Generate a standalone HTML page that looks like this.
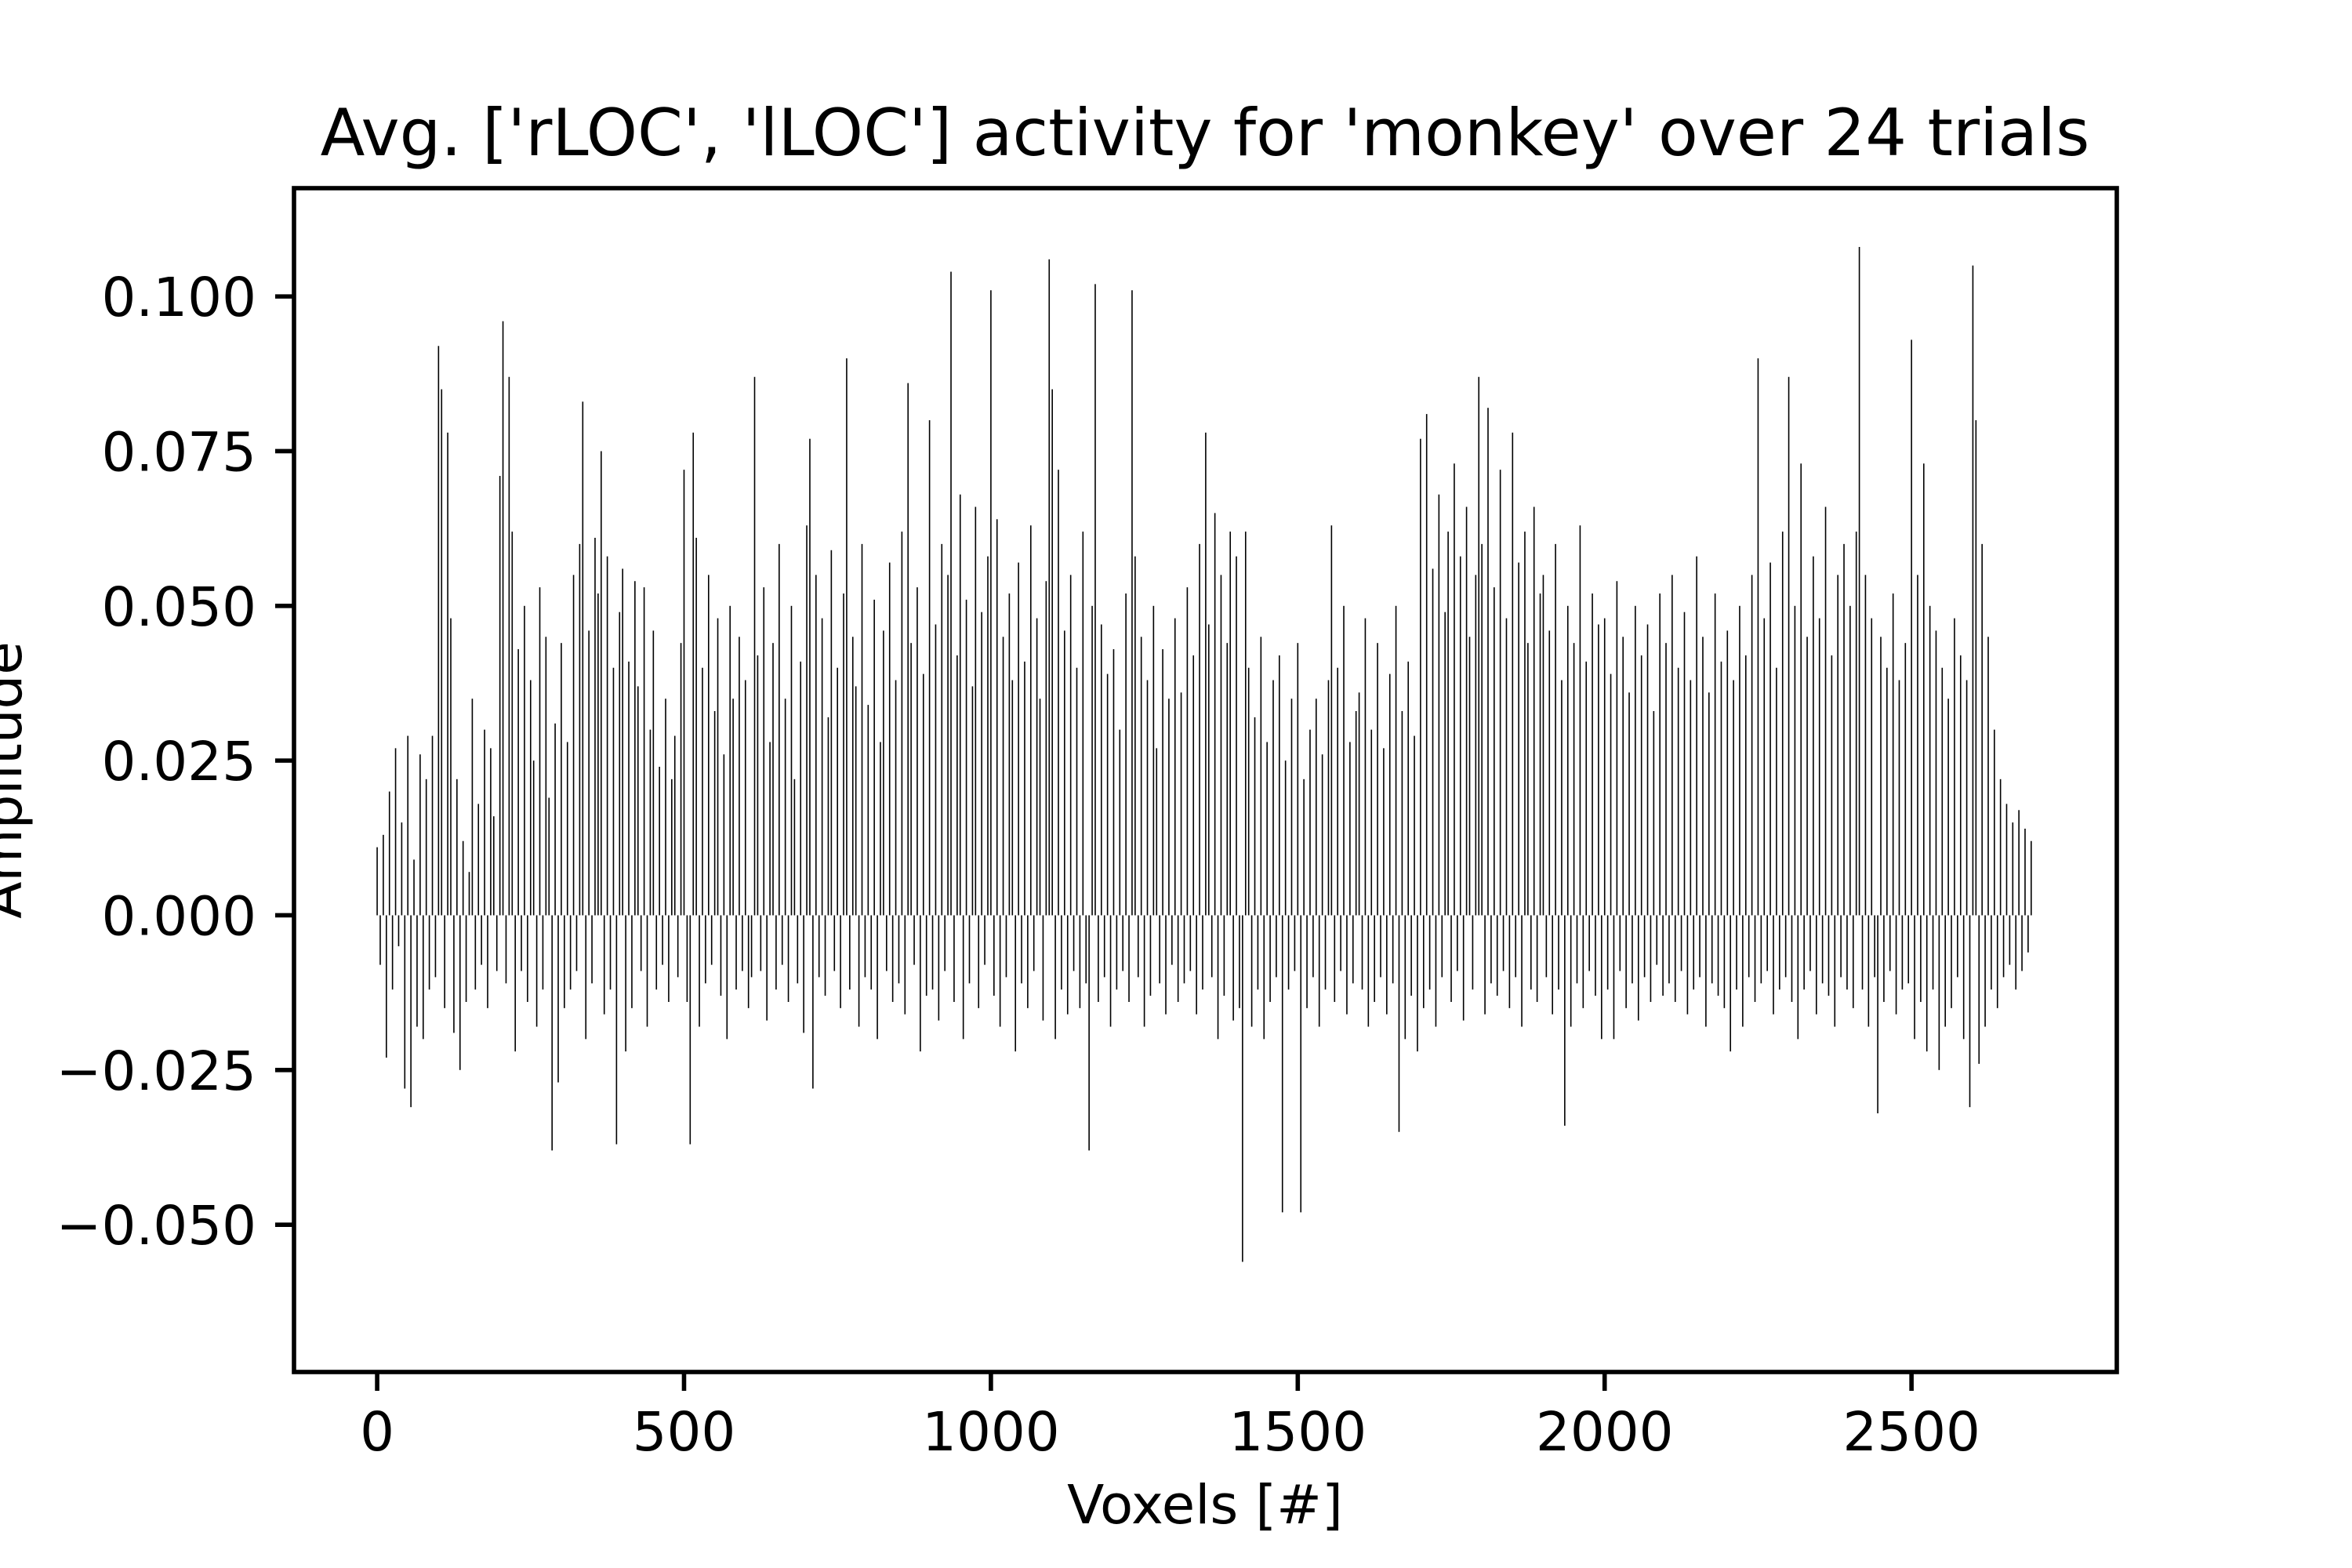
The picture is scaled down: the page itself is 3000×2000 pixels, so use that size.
<!DOCTYPE html>
<html><head><meta charset="utf-8"><style>
html,body{margin:0;padding:0;background:#fff;}
svg{display:block;font-family:"DejaVu Sans","Liberation Sans",sans-serif;}
</style></head><body>
<svg id="chart" width="3000" height="2000" viewBox="0 0 3000 2000" xmlns="http://www.w3.org/2000/svg">
<rect width="3000" height="2000" fill="#fff"/>
<text x="1537" y="198" font-size="83" text-anchor="middle">Avg. ['rLOC', 'lLOC'] activity for 'monkey' over 24 trials</text>
<g id="bars"></g>
<g id="axes"></g>
<text x="1537" y="1943" font-size="69" text-anchor="middle">Voxels [#]</text>
<text transform="translate(27,995) rotate(-90)" font-size="69" text-anchor="middle">Amplitude</text>
</svg>
<script>
// voxel step between listed samples
const voxelStep = 5;
// amplitude values (in units of 0.001), one per sampled voxel
const amplitudes = [
11,-8,13,-23,20,-12,27,-5,15,-28,29,-31,9,-18,26,-20,22,-12,29,-10,
92,85,-15,78,48,-19,22,-25,12,-14,7,35,-12,18,-8,30,-15,27,16,-9,
71,96,-11,87,62,-22,43,-9,50,-14,38,25,-18,53,-12,45,19,-38,31,-27,
44,-15,28,-12,55,-9,60,83,-20,46,-11,61,52,75,-16,58,-12,40,-37,49,
56,-22,41,-15,54,37,-9,53,-18,30,46,-12,24,-8,35,-14,22,29,-10,44,
72,-14,-37,78,61,-18,40,-11,55,-8,33,48,-13,26,-20,50,35,-12,45,-9,
38,-15,-10,87,42,-9,53,-17,28,44,-12,60,-8,35,-14,50,22,-11,41,-19,
63,77,-28,55,-10,48,-13,32,59,-9,40,-15,52,90,-12,45,37,-18,60,-10,
34,-12,51,-20,28,46,-9,57,-14,38,-11,62,-16,86,44,-8,53,-22,39,-13,
80,-12,47,-17,60,-9,55,104,-14,42,68,-20,51,-11,37,66,-15,49,-8,58,
101,-13,64,-18,45,-10,52,38,-22,57,-11,41,-15,63,-9,48,35,-17,54,106,
85,-20,72,-12,46,-16,55,-9,40,-15,62,-11,-38,50,102,-14,47,-10,39,-18,
43,-12,30,-9,52,-14,101,58,-10,45,-18,38,-13,50,27,-11,43,-16,35,-8,
48,-14,36,-11,53,-9,42,-16,60,-12,78,47,-10,65,-20,55,-13,44,62,-17,
58,-15,-56,62,40,-18,32,-12,45,-20,28,-14,38,-10,42,-48,25,-12,35,-9,
44,-48,22,-15,30,-10,35,-18,26,-12,38,63,-14,40,-9,50,-16,28,-11,33,
36,-12,48,-18,30,-14,44,-10,27,-16,39,-11,50,-35,33,-20,41,-13,29,-22,
77,-15,81,-12,56,-18,68,-10,49,62,-14,73,-9,58,-17,66,45,-12,55,87,
60,-16,82,-11,53,-13,72,-9,48,-15,78,-10,57,-18,62,44,-12,66,-14,52,
55,-10,46,-16,60,-12,38,-34,50,-18,44,-11,63,-15,41,-9,52,-13,47,-20,
48,-12,39,-20,54,-9,45,-15,36,-11,50,-17,42,-10,47,-14,33,-8,52,-13,
44,-11,55,-14,40,-9,49,-16,38,-12,58,-10,45,-18,36,-11,52,-13,41,-15,
46,-22,38,-12,50,-18,42,-10,55,-14,90,-11,48,-9,57,-16,40,-12,62,-10,
87,-14,50,-20,73,-12,45,-9,58,-16,48,-11,66,-13,42,-18,55,-10,60,-12,
50,-15,62,108,-12,55,-18,48,-10,-32,45,-14,40,-9,52,-16,38,-12,44,-11,
93,-20,55,-14,73,-22,50,-12,46,-25,40,-18,35,-15,48,-10,42,-20,38,-31,
105,80,-24,60,-18,45,-12,30,-15,22,-10,18,-8,15,-12,17,-9,14,-6,12
];
const xTicks = [0, 500, 1000, 1500, 2000, 2500];
const xTickLabels = ["0", "500", "1000", "1500", "2000", "2500"];
const yTicks = [-0.05, -0.025, 0, 0.025, 0.05, 0.075, 0.1];
const yTickLabels = ["\u22120.050", "\u22120.025", "0.000", "0.025", "0.050", "0.075", "0.100"];

const NS = "http://www.w3.org/2000/svg";
const L = 375, R = 2700, T = 240, B = 1750;
const xMin = -135.5, xMax = 2834.5, yMin = -0.0738, yMax = 0.1175;
function xs(v){ return L + (v - xMin) / (xMax - xMin) * (R - L); }
function ys(v){ return B - (v - yMin) / (yMax - yMin) * (B - T); }
function mk(tag, attrs, parent){ const e = document.createElementNS(NS, tag); for (const k in attrs) e.setAttribute(k, attrs[k]); parent.appendChild(e); return e; }

const barsG = document.getElementById('bars');
const y0 = ys(0);
amplitudes.forEach((a, i) => {
  const v = a * 0.001;
  const x = xs(i * voxelStep);
  const y = ys(v);
  const r = mk('rect', {x: (x - 0.8).toFixed(2), y: Math.min(y, y0).toFixed(2), width: 1.6, height: Math.max(Math.abs(y - y0), 0.5).toFixed(2), fill: '#000'}, barsG);
  
  
});

const axG = document.getElementById('axes');
const frame = mk('rect', {x: L, y: T, width: R - L, height: B - T, fill: 'none', stroke: '#000', 'stroke-width': 5.6}, axG);


xTicks.forEach((t, i) => {
  const x = xs(t);
  const tk = mk('line', {x1: x, x2: x, y1: B, y2: B + 24, stroke: '#000', 'stroke-width': 5.6}, axG);
  
  
  const tx = mk('text', {x: x, y: B + 100, 'font-size': 69, 'text-anchor': 'middle'}, axG);
  tx.textContent = xTickLabels[i];
  
  
});
yTicks.forEach((t, i) => {
  const y = ys(t);
  const tk = mk('line', {x1: L - 24, x2: L, y1: y, y2: y, stroke: '#000', 'stroke-width': 5.6}, axG);
  
  
  const tx = mk('text', {x: L - 48, y: y + 25, 'font-size': 69, 'text-anchor': 'end'}, axG);
  tx.textContent = yTickLabels[i];
  
  
});
</script>
</body></html>
